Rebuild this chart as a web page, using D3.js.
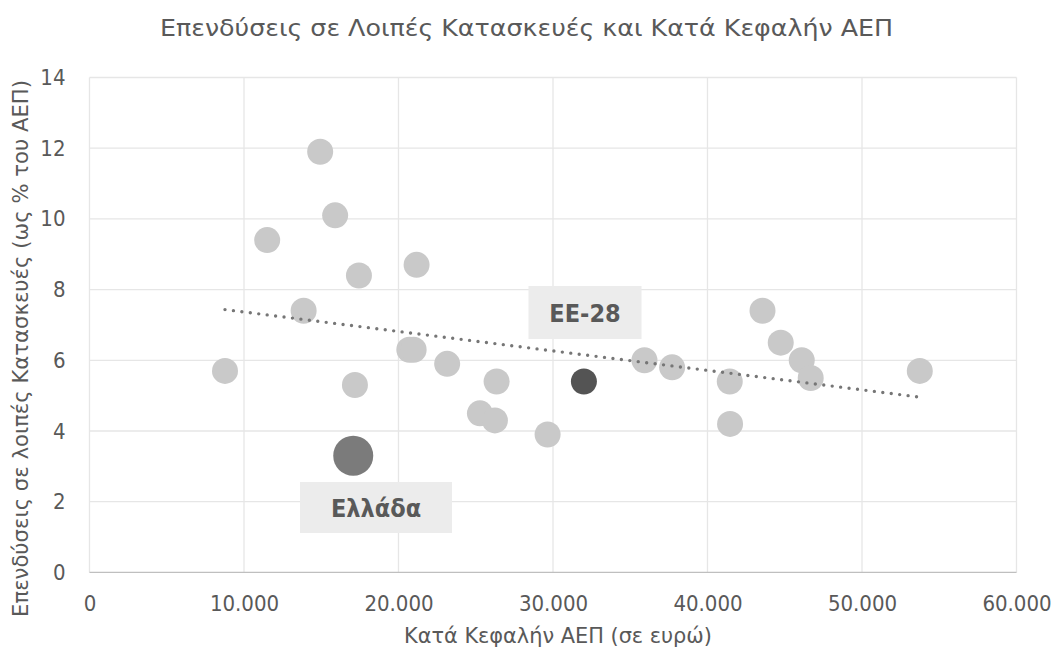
<!DOCTYPE html>
<html>
<head>
<meta charset="utf-8">
<script src="https://cdn.jsdelivr.net/npm/d3@7"></script>
<style>
  body { margin: 0; background: #fff; }
  svg text { font-family: "DejaVu Sans Condensed", "Liberation Sans Narrow", "DejaVu Sans", sans-serif; fill: #595959; }
</style>
</head>
<body>
<svg id="chart" width="1057" height="653"></svg>
<script>
// κατά κεφαλήν ΑΕΠ (ευρώ) και επενδύσεις σε λοιπές κατασκευές (% ΑΕΠ)
const gdpPerCapita = [14930, 15900, 11500, 17440, 21170, 13860, 20700, 20980, 23150, 8770,
    17180, 26350, 25270, 26240, 29650, 35920, 37710, 41440, 41460, 43560,
    44740, 46100, 46680, 53740];
const otherConstruction = [11.9, 10.1, 9.4, 8.4, 8.7, 7.4, 6.3, 6.3, 5.9, 5.7,
    5.3, 5.4, 4.5, 4.3, 3.9, 6.0, 5.8, 5.4, 4.2, 7.4,
    6.5, 6.0, 5.5, 5.7];
const greece = { label: "Ελλάδα", gdp: 17070, value: 3.3 };
const eu28 = { label: "ΕΕ-28", gdp: 32000, value: 5.4 };
const xTicks = [0, 10000, 20000, 30000, 40000, 50000, 60000];
const yTicks = [0, 2, 4, 6, 8, 10, 12, 14];

const svg = d3.select("#chart");
const margin = {left: 89.5, right: 40.5, top: 77.5, bottom: 80.6};
const width = 1057 - margin.left - margin.right;
const height = 653 - margin.top - margin.bottom;

const x = d3.scaleLinear().domain([0, 60000]).range([0, width]);
const y = d3.scaleLinear().domain([0, 14]).range([height, 0]);
const fmt = d => d === 0 ? "0" : d3.format(",")(d).replace(/,/g, ".");

svg.append("text")
    .attr("x", 160).attr("y", 36)
    .attr("textLength", 733).attr("lengthAdjust", "spacingAndGlyphs")
    .style("font-size", "23px")
    .text("Επενδύσεις σε Λοιπές Κατασκευές και Κατά Κεφαλήν ΑΕΠ");

const g = svg.append("g").attr("transform", `translate(${margin.left},${margin.top})`);

// πλέγμα
g.append("g").selectAll("line").data(yTicks.slice(1)).join("line")
    .attr("x1", 0).attr("x2", width)
    .attr("y1", d => y(d)).attr("y2", d => y(d))
    .attr("stroke", "#e6e6e6").attr("stroke-width", 1.3);
g.append("g").selectAll("line").data(xTicks).join("line")
    .attr("x1", d => x(d)).attr("x2", d => x(d))
    .attr("y1", 0).attr("y2", height)
    .attr("stroke", "#e6e6e6").attr("stroke-width", 1.3);
g.append("line")
    .attr("x1", 0).attr("x2", width)
    .attr("y1", height).attr("y2", height)
    .attr("stroke", "#bfbfbf").attr("stroke-width", 1.3);

const xAxis = g.append("g").attr("transform", `translate(0,${height})`)
    .call(d3.axisBottom(x).tickValues(xTicks).tickFormat(fmt).tickSize(0).tickPadding(23));
const yAxis = g.append("g")
    .call(d3.axisLeft(y).tickValues(yTicks).tickSize(0).tickPadding(24));
[xAxis, yAxis].forEach(a => {
    a.select(".domain").remove();
    a.selectAll("text").style("font-size", "22px").attr("fill", "#595959");
});

svg.append("text")
    .attr("x", 404).attr("y", 643)
    .attr("textLength", 308).attr("lengthAdjust", "spacingAndGlyphs")
    .style("font-size", "22px")
    .text("Κατά Κεφαλήν ΑΕΠ (σε ευρώ)");
svg.append("text")
    .attr("transform", "translate(28,617) rotate(-90)")
    .attr("textLength", 537).attr("lengthAdjust", "spacingAndGlyphs")
    .style("font-size", "22px")
    .text("Επενδύσεις σε λοιπές Κατασκευές (ως % του ΑΕΠ)");

const countries = gdpPerCapita.map((v, i) => ({gdp: v, value: otherConstruction[i]}));

g.append("g").selectAll("circle").data(countries).join("circle")
    .attr("cx", d => x(d.gdp)).attr("cy", d => y(d.value)).attr("r", 13)
    .attr("fill", "#c9c9c9");

g.append("circle")
    .attr("cx", x(greece.gdp)).attr("cy", y(greece.value)).attr("r", 20)
    .attr("fill", "#7b7b7b");
g.append("circle")
    .attr("cx", x(eu28.gdp)).attr("cy", y(eu28.value)).attr("r", 13)
    .attr("fill", "#545454");

// γραμμική τάση (όλες οι χώρες μαζί με την Ελλάδα)
const all = countries.concat([{gdp: greece.gdp, value: greece.value}]);
const mx = d3.mean(all, d => d.gdp), my = d3.mean(all, d => d.value);
const slope = d3.sum(all, d => (d.gdp - mx) * (d.value - my)) / d3.sum(all, d => (d.gdp - mx) ** 2);
const intercept = my - slope * mx;
const [x0, x1] = d3.extent(all, d => d.gdp);
g.append("line")
    .attr("x1", x(x0)).attr("y1", y(intercept + slope * x0))
    .attr("x2", x(x1)).attr("y2", y(intercept + slope * x1))
    .attr("stroke", "#767676").attr("stroke-width", 3.4)
    .attr("stroke-linecap", "round").attr("stroke-dasharray", "0 8.5");

// ετικέτες
function label(txt, cx, cy, w, h) {
    svg.append("rect")
        .attr("x", cx - w / 2).attr("y", cy - h / 2).attr("width", w).attr("height", h)
        .attr("fill", "#ececec");
    svg.append("text")
        .attr("x", cx).attr("y", cy).attr("dy", "0.36em")
        .attr("text-anchor", "middle")
        .style("font-size", "25px").style("font-weight", "bold")
        .text(txt);
}
label(greece.label, 376, 507.5, 152, 51);
label(eu28.label, 585, 312.5, 113, 53);
</script>
</body>
</html>
